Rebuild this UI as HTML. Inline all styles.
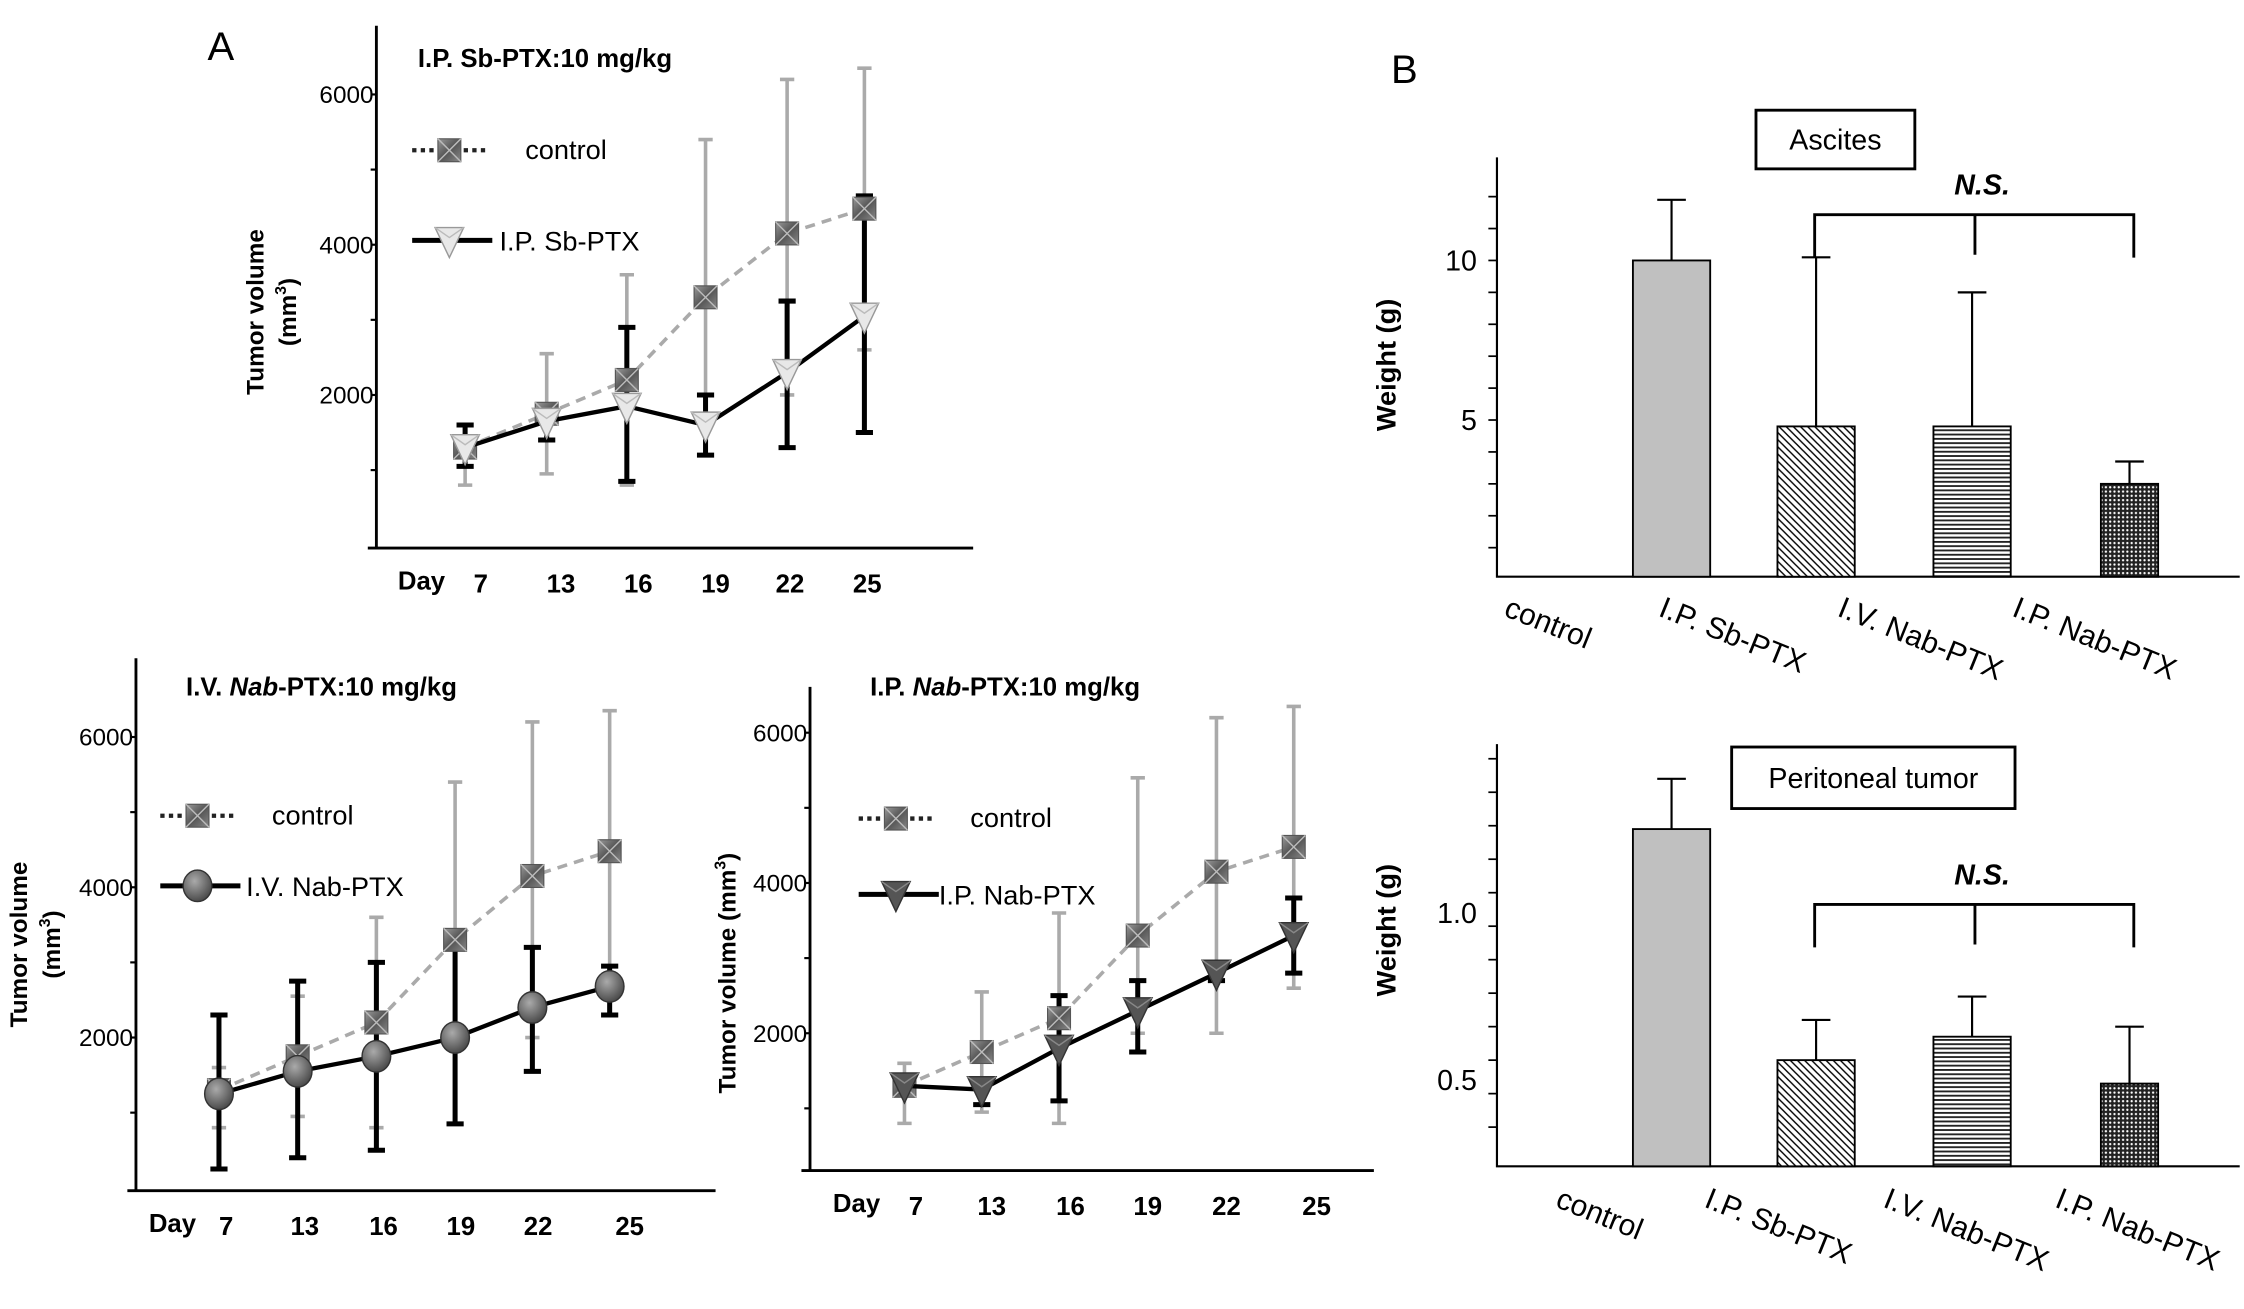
<!DOCTYPE html>
<html><head><meta charset="utf-8"><style>
html,body{margin:0;padding:0;background:#fff;}
svg{display:block;font-family:"Liberation Sans",Arial,sans-serif;}
</style></head><body>
<svg id="fig" width="2244" height="1309" viewBox="0 0 1568 914.7" preserveAspectRatio="none" xmlns="http://www.w3.org/2000/svg">
<defs>
<linearGradient id="sqg" x1="0" y1="0" x2="1" y2="1"><stop offset="0" stop-color="#9a9a9a"/><stop offset="0.5" stop-color="#555"/><stop offset="1" stop-color="#888"/></linearGradient>
<radialGradient id="cg" cx="0.4" cy="0.35" r="0.7"><stop offset="0" stop-color="#aaa"/><stop offset="1" stop-color="#444"/></radialGradient>
<pattern id="diag" width="5" height="5" patternUnits="userSpaceOnUse"><rect width="5" height="5" fill="#fff"/><path d="M0,0 L5,5 M-1,4 L1,6 M4,-1 L6,1" stroke="#000" stroke-width="1"/></pattern>
<pattern id="horiz" width="4" height="3" patternUnits="userSpaceOnUse"><rect width="4" height="3" fill="#fff"/><rect width="4" height="1.3" fill="#222"/></pattern>
<pattern id="dots" width="3" height="3" patternUnits="userSpaceOnUse"><rect width="3" height="3" fill="#222"/><circle cx="1.5" cy="1.5" r="0.8" fill="#fff"/></pattern>
</defs>
<g id="root"></g>
</svg>
<script>
// ---- Data ----
const days = [7, 13, 16, 19, 22, 25];
const controlMean = [1300, 1750, 2200, 3300, 4150, 4480];
const controlUp = [1600, 2550, 3600, 5400, 6200, 6350];
const controlLo = [800, 950, 800, 2000, 2000, 2600];
const sbMean = [1300, 1650, 1850, 1600, 2300, 3050];
const sbUp = [1600, 1850, 2900, 2000, 3250, 4650];
const sbLo = [1050, 1400, 850, 1200, 1300, 1500];
const ivMean = [1250, 1550, 1750, 2000, 2400, 2680];
const ivUp = [2300, 2750, 3000, 3200, 3200, 2950];
const ivLo = [250, 400, 500, 850, 1550, 2300];
const ipMean = [1300, 1250, 1800, 2300, 2800, 3300];
const ipUp = [1400, 1350, 2500, 2700, 2850, 3800];
const ipLo = [1200, 1050, 1100, 1750, 2700, 2800];
const groups = ["control", "I.P. Sb-PTX", "I.V. Nab-PTX", "I.P. Nab-PTX"];
const ascMean = [10, 4.8, 4.8, 3.0];
const ascErr = [11.9, 10.1, 9.0, 3.7];
const perMean = [1.25, 0.56, 0.63, 0.49];
const perErr = [1.40, 0.68, 0.75, 0.66];
const yTicksLine = [2000, 4000, 6000];
const yTicksAsc = [5, 10];
const yTicksPer = [0.5, 1.0];

const NS = "http://www.w3.org/2000/svg";
const root = document.getElementById('root');
function el(tag, attrs, parent, text) {
  const e = document.createElementNS(NS, tag);
  for (const k in attrs) e.setAttribute(k, attrs[k]);
  if (text !== undefined) e.textContent = text;
  (parent || root).appendChild(e);
  return e;
}
function txt(x, y, s, size, opts, parent) {
  const a = Object.assign({x: x, y: y, 'font-size': size, fill: '#000'}, opts || {});
  return el('text', a, parent, s);
}
function square(g, x, y) {
  el('rect', {x: x-8, y: y-8, width: 16, height: 16, fill: 'url(#sqg)', stroke: '#555', 'stroke-width': 0.8}, g);
  el('path', {d: `M${x-8},${y-8}L${x+8},${y+8}M${x+8},${y-8}L${x-8},${y+8}`, stroke: '#bbb', 'stroke-width': 1}, g);
}
function tri(g, x, y, light) {
  el('path', {d: `M${x-10},${y-9}L${x+10},${y-9}L${x},${y+12}Z`, fill: light ? '#e8e8e8' : '#555', stroke: light ? '#999' : '#333', 'stroke-width': 1}, g);
  el('path', {d: `M${x-10},${y-9}L${x},${y-2}L${x+10},${y-9}`, fill: 'none', stroke: light ? '#bbb' : '#888', 'stroke-width': 1}, g);
}
function circ(g, x, y) { el('ellipse', {cx: x, cy: y, rx: 10, ry: 11, fill: 'url(#cg)', stroke: '#333', 'stroke-width': 1}, g); }

function linePanel(cfg) {
  const g = el('g', {});
  
  
  const yv = v => cfg.y0 - v * cfg.ys;
  const xd = i => cfg.xs[i];
  const ax = el('path', {d: `M${cfg.ax},${cfg.top}L${cfg.ax},${cfg.bot}M${cfg.ax-6},${cfg.bot}L${cfg.right},${cfg.bot}`, stroke: '#000', 'stroke-width': 2, fill: 'none'}, g);
  
  
  for (let v = 1000; v <= 6000; v += 1000) el('line', {x1: cfg.ax-4, x2: cfg.ax, y1: yv(v), y2: yv(v), stroke: '#000', 'stroke-width': 1.5}, g);
  yTicksLine.forEach(v => {
    const t = txt(cfg.ax-2, yv(v)+6, String(v), 17, {'text-anchor': 'end'}, g);
    
    
  });
  txt(cfg.dayX, cfg.bot+29, 'Day', 18, {'font-weight': 'bold'}, g);
  days.forEach((d, i) => {
    const t = txt(cfg.lx[i], cfg.bot+31, String(d), 18, {'font-weight': 'bold', 'text-anchor': 'middle'}, g);
    
    
  });
  const tt = txt(cfg.titleX, cfg.titleY, '', 18, {'font-weight': 'bold'}, g);
  tt.innerHTML = cfg.title;
  
  
  cfg.ytitle.forEach(l => {
    const t = txt(0, 0, '', 17, {'font-weight': 'bold', 'text-anchor': 'middle', transform: `translate(${l.x},${l.y}) rotate(-90)`}, g);
    t.innerHTML = l.s;
    
    
  });
  days.forEach((d, i) => {
    const x = xd(i);
    el('path', {d: `M${x},${yv(controlUp[i])}L${x},${yv(controlLo[i])}M${x-5},${yv(controlUp[i])}L${x+5},${yv(controlUp[i])}M${x-5},${yv(controlLo[i])}L${x+5},${yv(controlLo[i])}`, stroke: '#aaa', 'stroke-width': 2.5, fill: 'none'}, g);
  });
  const cl = el('polyline', {points: days.map((d, i) => `${xd(i)},${yv(controlMean[i])}`).join(' '), fill: 'none', stroke: '#aaa', 'stroke-width': 2.5, 'stroke-dasharray': '7,5'}, g);
  
  
  days.forEach((d, i) => {
    const x = xd(i);
    el('path', {d: `M${x},${yv(cfg.up[i])}L${x},${yv(cfg.lo[i])}M${x-6},${yv(cfg.up[i])}L${x+6},${yv(cfg.up[i])}M${x-6},${yv(cfg.lo[i])}L${x+6},${yv(cfg.lo[i])}`, stroke: '#000', 'stroke-width': 3.5, fill: 'none'}, g);
  });
  days.forEach((d, i) => square(g, xd(i), yv(controlMean[i])));
  const tl = el('polyline', {points: days.map((d, i) => `${xd(i)},${yv(cfg.mean[i])}`).join(' '), fill: 'none', stroke: '#000', 'stroke-width': 3}, g);
  
  
  days.forEach((d, i) => cfg.marker(g, xd(i), yv(cfg.mean[i])));
  const L = cfg.leg;
  const lg = el('g', {}, g);
  
  
  el('line', {x1: L.x, x2: L.x+52, y1: L.y1, y2: L.y1, stroke: '#222', 'stroke-width': 3, 'stroke-dasharray': '3,3'}, lg);
  square(lg, L.x+26, L.y1);
  txt(L.t1, L.y1+6, 'control', 19, {}, lg);
  el('line', {x1: L.x, x2: L.x+56, y1: L.y2, y2: L.y2, stroke: '#000', 'stroke-width': 3.5}, lg);
  cfg.marker(lg, L.x+26, L.y2);
  txt(L.t2, L.y2+7, cfg.legName, 19, {}, lg);
}

linePanel({name: 'chart-ip-sb-ptx', ax: 263, top: 18, bot: 383, right: 680, y0: 381, ys: 0.0525,
  xs: [325, 382, 438, 493, 550, 604], lx: [336, 392, 446, 500, 552, 606], dayX: 278,
  title: 'I.P. Sb-PTX:10 mg/kg', titleX: 292, titleY: 47,
  ytitle: [{x: 184, y: 218, s: 'Tumor volume'}, {x: 207, y: 218, s: '(mm<tspan font-size="11" dy="-7">3</tspan><tspan dy="7">)</tspan>'}],
  mean: sbMean, up: sbUp, lo: sbLo, marker: (g, x, y) => tri(g, x, y, true), legName: 'I.P. Sb-PTX',
  leg: {x: 288, y1: 105, y2: 168, t1: 367, t2: 349}});
linePanel({name: 'chart-iv-nab-ptx', ax: 95, top: 460, bot: 832, right: 500, y0: 830, ys: 0.0525,
  xs: [153, 208, 263, 318, 372, 426], lx: [158, 213, 268, 322, 376, 440], dayX: 104,
  title: 'I.V. <tspan font-style="italic">Nab</tspan>-PTX:10 mg/kg', titleX: 130, titleY: 486,
  ytitle: [{x: 19, y: 660, s: 'Tumor volume'}, {x: 42, y: 660, s: '(mm<tspan font-size="11" dy="-7">3</tspan><tspan dy="7">)</tspan>'}],
  mean: ivMean, up: ivUp, lo: ivLo, marker: circ, legName: 'I.V. Nab-PTX',
  leg: {x: 112, y1: 570, y2: 619, t1: 190, t2: 172}});
linePanel({name: 'chart-ip-nab-ptx', ax: 566, top: 480, bot: 818, right: 960, y0: 827, ys: 0.0525,
  xs: [632, 686, 740, 795, 850, 904], lx: [640, 693, 748, 802, 857, 920], dayX: 582,
  title: 'I.P. <tspan font-style="italic">Nab</tspan>-PTX:10 mg/kg', titleX: 608, titleY: 486,
  ytitle: [{x: 514, y: 680, s: 'Tumor volume (mm<tspan font-size="11" dy="-7">3</tspan><tspan dy="7">)</tspan>'}],
  mean: ipMean, up: ipUp, lo: ipLo, marker: (g, x, y) => tri(g, x, y, false), legName: 'I.P. Nab-PTX',
  leg: {x: 600, y1: 572, y2: 625, t1: 678, t2: 656}});

function barPanel(cfg) {
  const g = el('g', {});
  
  
  const yv = v => cfg.y0 - (v - cfg.vmin) * cfg.ys;
  const ax = el('path', {d: `M${cfg.ax},${cfg.top}L${cfg.ax},${cfg.bot}L1565,${cfg.bot}`, stroke: '#000', 'stroke-width': 1.5, fill: 'none'}, g);
  
  
  for (let v = cfg.vmin + cfg.minor; v <= cfg.vmax + 1e-9; v += cfg.minor) el('line', {x1: cfg.ax-6, x2: cfg.ax, y1: yv(v), y2: yv(v), stroke: '#000', 'stroke-width': 1.2}, g);
  cfg.ticks.forEach(v => {
    const t = txt(cfg.ax-14, yv(v)+7, cfg.fmt(v), 20, {'text-anchor': 'end'}, g);
    
    
  });
  const yt = txt(0, 0, 'Weight (g)', 19, {'font-weight': 'bold', 'text-anchor': 'middle', transform: `translate(${cfg.ytx},${cfg.yty}) rotate(-90)`}, g);
  
  
  const fills = ['#c0c0c0', 'url(#diag)', 'url(#horiz)', 'url(#dots)'];
  const bx = [1168, 1269, 1378, 1488], bw = [54, 54, 54, 40];
  cfg.mean.forEach((v, i) => {
    const x = bx[i];
    el('line', {x1: x, x2: x, y1: yv(cfg.err[i]), y2: yv(v), stroke: '#000', 'stroke-width': 1.5}, g);
    el('line', {x1: x-10, x2: x+10, y1: yv(cfg.err[i]), y2: yv(cfg.err[i]), stroke: '#000', 'stroke-width': 1.5}, g);
    const r = el('rect', {x: x-bw[i]/2, y: yv(v), width: bw[i], height: cfg.bot - yv(v), fill: fills[i], stroke: '#000', 'stroke-width': 1.3}, g);
    
    
  });
  groups.forEach((s, i) => {
    const t = txt(0, 0, s, 21, {transform: `translate(${cfg.lx[i]},${cfg.ly}) rotate(22)`}, g);
    
    
  });
  const B = cfg.box;
  const bxe = el('rect', {x: B[0], y: B[1], width: B[2], height: B[3], fill: '#fff', stroke: '#000', 'stroke-width': 2}, g);
  
  
  txt(B[0] + B[2]/2, B[1] + B[3]/2 + 7, cfg.label, 20, {'text-anchor': 'middle'}, g);
  const br = el('path', {d: `M1268,${cfg.brY+30}L1268,${cfg.brY}L1491,${cfg.brY}L1491,${cfg.brY+30}M1380,${cfg.brY}L1380,${cfg.brY+28}`, stroke: '#000', 'stroke-width': 2, fill: 'none'}, g);
  
  
  txt(1385, cfg.brY-14, 'N.S.', 20, {'font-weight': 'bold', 'font-style': 'italic', 'text-anchor': 'middle'}, g);
}
barPanel({name: 'chart-ascites', ax: 1046, top: 110, bot: 403, y0: 405, vmin: 0, vmax: 12, minor: 1, ys: 22.3,
  ticks: yTicksAsc, fmt: v => String(v), ytx: 975, yty: 255, mean: ascMean, err: ascErr,
  lx: [1050, 1158, 1283, 1405], ly: 430, box: [1227, 77, 111, 41], label: 'Ascites', brY: 150});
barPanel({name: 'chart-peritoneal', ax: 1046, top: 520, bot: 815, y0: 811, vmin: 0.26, vmax: 1.5, minor: 0.1, ys: 234,
  ticks: yTicksPer, fmt: v => v.toFixed(1), ytx: 975, yty: 650, mean: perMean, err: perErr,
  lx: [1086, 1190, 1315, 1435], ly: 843, box: [1210, 522, 198, 43], label: 'Peritoneal tumor', brY: 632});

const a = txt(145, 42, 'A', 28, {});


const b = txt(972, 58, 'B', 28, {});


</script>
</body></html>
